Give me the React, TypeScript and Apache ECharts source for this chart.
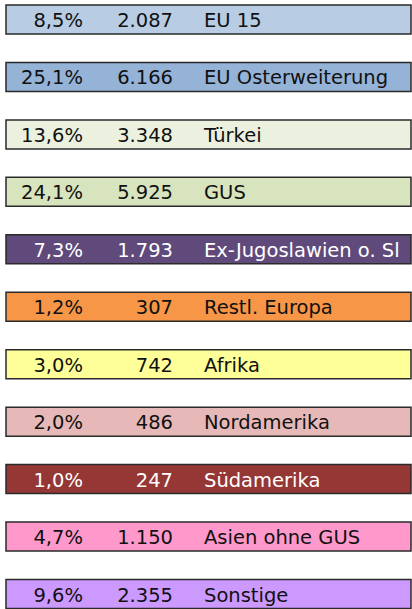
import React, { useEffect, useRef } from "react";
import * as echarts from "echarts";

const categories = [
  "EU 15",
  "EU Osterweiterung",
  "Türkei",
  "GUS",
  "Ex-Jugoslawien o. Slowenien",
  "Restl. Europa",
  "Afrika",
  "Nordamerika",
  "Südamerika",
  "Asien ohne GUS",
  "Sonstige",
];
const percents = ["8,5%", "25,1%", "13,6%", "24,1%", "7,3%", "1,2%", "3,0%", "2,0%", "1,0%", "4,7%", "9,6%"];
const counts = ["2.087", "6.166", "3.348", "5.925", "1.793", "307", "742", "486", "247", "1.150", "2.355"];
const colors = [
  "#b8cce4",
  "#95b3d7",
  "#ebf1de",
  "#d7e4bd",
  "#604a7b",
  "#f79646",
  "#ffff99",
  "#e6b9b8",
  "#953735",
  "#ff99cc",
  "#cc99ff",
];
const textColors = ["#111", "#111", "#111", "#111", "#fff", "#111", "#111", "#111", "#fff", "#111", "#111"];

export default function App() {
  const ref = useRef<HTMLDivElement>(null);
  useEffect(() => {
    document.body.style.margin = "0";
    const chart = echarts.init(ref.current!, null, { renderer: "svg" });
    const font = "DejaVu Sans";
    chart.setOption({
      animation: false,
      grid: { left: 6, right: 1, top: 0, bottom: 0 },
      xAxis: { type: "value", min: 0, max: 1, show: false },
      yAxis: { type: "value", inverse: true, min: -0.3394, max: 10.261, show: false },
      series: [
        {
          type: "custom",
          data: categories.map((c, i) => [0, i]),
          renderItem: (params: any, api: any) => {
            const i = api.value(1);
            const left = api.coord([0, i]);
            const right = api.coord([1, i]);
            const yc = left[1];
            const h = 29;
            const x0 = left[0];
            const w = right[0] - left[0];
            const tc = textColors[i];
            const ts = { fontFamily: font, fontSize: 19.5, fill: tc, verticalAlign: "middle" };
            return {
              type: "group",
              children: [
                {
                  type: "rect",
                  shape: { x: x0, y: yc - h / 2, width: w, height: h },
                  style: { fill: colors[i], stroke: "#2a2a2a", lineWidth: 1.5 },
                },
                {
                  type: "text",
                  x: x0 + 77,
                  y: yc + 1,
                  style: { ...ts, text: percents[i], align: "right" },
                },
                {
                  type: "text",
                  x: x0 + 167,
                  y: yc + 1,
                  style: { ...ts, text: counts[i], align: "right" },
                },
                {
                  type: "text",
                  x: x0 + 198,
                  y: yc + 1,
                  style: {
                    ...ts,
                    text: categories[i],
                    align: "left",
                    width: w - 198,
                    overflow: "truncate",
                    ellipsis: "",
                  },
                },
              ],
            };
          },
        },
      ],
    });
    return () => chart.dispose();
  }, []);
  return <div ref={ref} style={{ width: 412, height: 609 }} />;
}
